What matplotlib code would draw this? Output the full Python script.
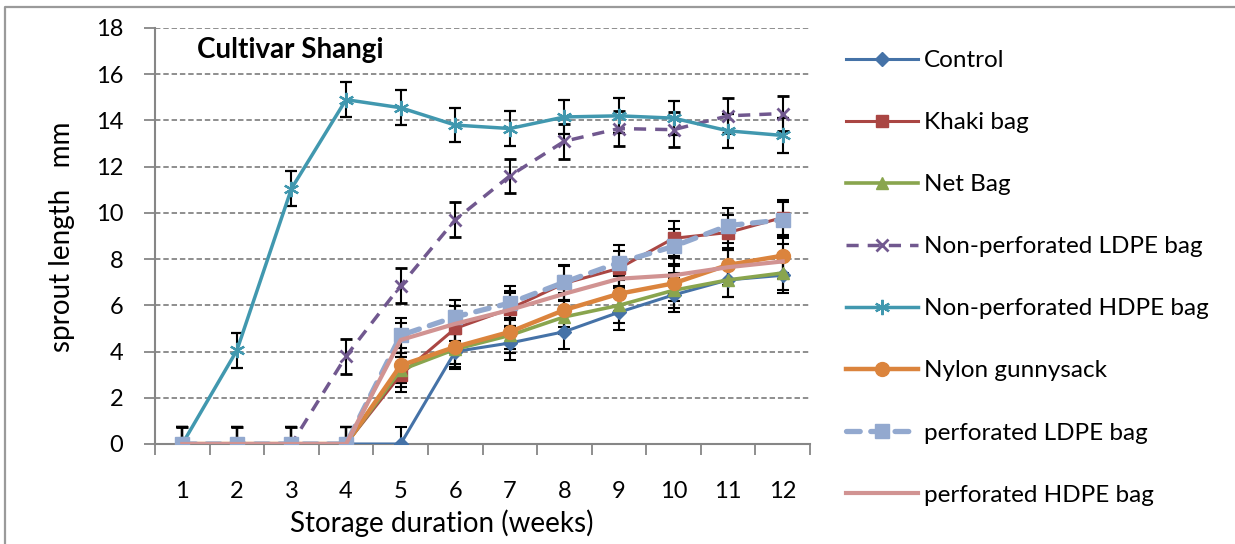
import matplotlib
matplotlib.use("Agg")
import matplotlib.pyplot as plt
from matplotlib.lines import Line2D
from matplotlib.ticker import FixedLocator

plt.rcParams['font.family'] = ['Lato', 'DejaVu Sans']

# data (sprout length, mm)
weeks = [1, 2, 3, 4, 5, 6, 7, 8, 9, 10, 11, 12]
control = [0, 0, 0, 0, 0, 4.0, 4.37, 4.86, 5.7, 6.45, 7.1, 7.3]
khaki = [0, 0, 0, 0, 3.0, 5.0, 5.85, 6.95, 7.6, 8.9, 9.15, 9.8]
net_bag = [0, 0, 0, 0, 3.2, 4.1, 4.7, 5.5, 6.0, 6.65, 7.1, 7.4]
np_ldpe = [0, 0, 0, 3.8, 6.85, 9.7, 11.6, 13.1, 13.65, 13.6, 14.2, 14.3]
np_hdpe = [0, 4.05, 11.05, 14.9, 14.55, 13.8, 13.65, 14.15, 14.2, 14.1, 13.55, 13.35]
nylon = [0, 0, 0, 0, 3.4, 4.2, 4.85, 5.8, 6.5, 6.95, 7.75, 8.15]
p_ldpe = [0, 0, 0, 0, 4.7, 5.5, 6.1, 7.0, 7.85, 8.55, 9.45, 9.7]
p_hdpe = [0, 0, 0, 0, 4.5, 5.2, 5.8, 6.5, 7.15, 7.3, 7.65, 7.9]
err = 0.75

labels = ['Control', 'Khaki bag', 'Net Bag', 'Non-perforated LDPE bag',
          'Non-perforated HDPE bag', 'Nylon gunnysack', 'perforated LDPE bag',
          'perforated HDPE bag']
yticks = [0, 2, 4, 6, 8, 10, 12, 14, 16, 18]

series = [control, khaki, net_bag, np_ldpe, np_hdpe, nylon, p_ldpe, p_hdpe]
styles = [
    dict(color='#4572A7', lw=2.2, marker='D', ms=7.5),
    dict(color='#AA4643', lw=2.2, marker='s', ms=8.5),
    dict(color='#89A54E', lw=2.6, marker='^', ms=9),
    dict(color='#71588F', lw=2.5, marker='x', ms=9, mew=2, ls=(0, (3.5, 2.6))),
    dict(color='#4198AF', lw=2.5, marker=(6, 2, 0), ms=11, mew=1.6),
    dict(color='#DB843D', lw=3.2, marker='o', ms=10),
    dict(color='#93A9CF', lw=3.8, marker='s', ms=10.5, ls=(0, (2.6, 2.0)),
         dash_capstyle='round'),
    dict(color='#D19392', lw=3.0, marker=None),
]

fig = plt.figure(figsize=(12.35, 5.44), dpi=100)
ax = fig.add_axes([155 / 1235, 1 - 444 / 544, 655 / 1235, 416 / 544])

for ys, st in zip(series, styles):
    ax.errorbar(weeks, ys, yerr=err, ecolor='black', elinewidth=1.5,
                capsize=4, capthick=1.5, zorder=3, **st)

ax.set_xlim(0.5, 12.5)
ax.set_ylim(0, 18)
ax.set_yticks(yticks)
ax.set_xticks(weeks)
ax.xaxis.set_minor_locator(FixedLocator([w - 0.5 for w in weeks] + [12.5]))
ax.tick_params(axis='x', which='major', length=0, pad=27, labelsize=17)
ax.tick_params(axis='x', which='minor', length=8, width=1.3, color='#868686')
ax.tick_params(axis='y', length=8, width=1.3, color='#868686', pad=15,
               labelsize=17)
ax.yaxis.grid(True, ls=(0, (3, 1.6)), color='#868686', lw=1.3)
ax.set_axisbelow(True)
for s in ['top', 'right']:
    ax.spines[s].set_visible(False)
for s in ['left', 'bottom']:
    ax.spines[s].set_color('#868686')
    ax.spines[s].set_linewidth(1.5)

fig.text(62 / 1235, 1 - 237 / 544, 'sprout length   mm', fontsize=20,
         rotation=90, ha='center', va='center')
fig.text(442 / 1235, 1 - 523 / 544, 'Storage duration (weeks)', fontsize=20,
         ha='center', va='center')
ax.text(0.064, 0.947, 'Cultivar Shangi', transform=ax.transAxes,
        fontsize=20, fontweight='bold', va='center', ha='left')

handles = [Line2D([], [], **st) for st in styles]
fig.legend(handles, labels, loc='upper left', bbox_to_anchor=(846 / 1235, 1 - 50 / 544),
           frameon=False, fontsize=17.5, handlelength=2.95, handletextpad=0.25,
           labelspacing=1.69, borderpad=0, borderaxespad=0)

# chart border (Excel style), cropped at right and bottom
fig.add_artist(Line2D([5 / 1235, 5 / 1235, 1.0], [0.0, 1 - 7 / 544, 1 - 7 / 544],
                      transform=fig.transFigure, color='#9a9a9a', lw=1.6))

fig.savefig('out.png', dpi=100)
